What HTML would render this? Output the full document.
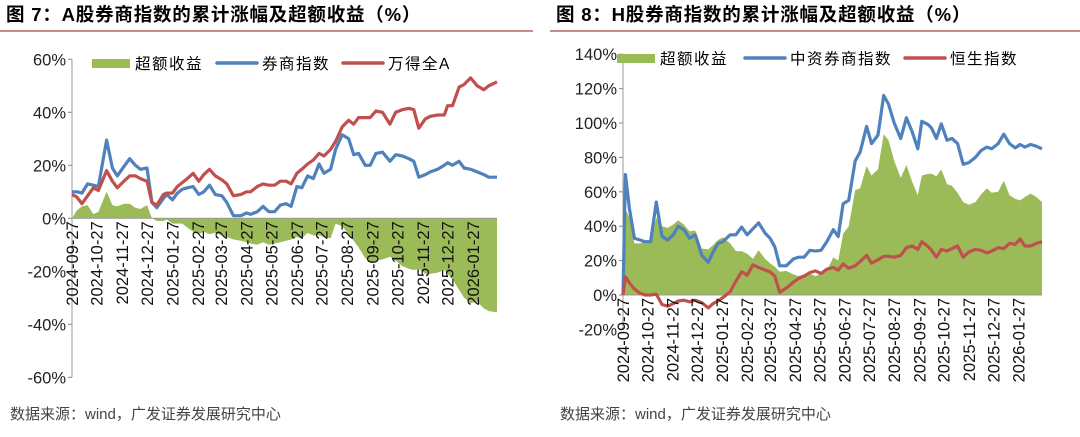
<!DOCTYPE html>
<html><head><meta charset="utf-8"><style>
body{margin:0;background:#fff;width:1080px;height:432px;overflow:hidden;font-family:"Liberation Sans","Noto Sans CJK SC",sans-serif}
svg text{font-family:"Liberation Sans","Noto Sans CJK SC",sans-serif}
</style></head><body>
<svg id="c" width="1080" height="432"></svg>
<script>
const leftDays=[0,6,12,19,26,32,42,49,55,63,70,77,83,91,97,103,111,115,122,128,134,140,147,154,160,167,174,182,188,196,205,212,217,225,232,239,246,253,260,266,273,279,286,293,300,306,314,320,328,336,342,348,356,362,369,377,386,393,401,409,415,421,429,435,444,452,456,462,470,476,484,492,500,506,516];
const leftBroker=[10,10,9.5,13,12.5,12,29.5,19,16,19.5,22.5,20,18.5,19,6,4,7.5,9,7,9.5,11,11.5,12,9,10,12.5,9,8.5,6,1,1,2,1.5,2.5,4.5,2.5,2.5,5,5.5,4.5,12,11.5,16,15,20.5,17,18.5,26,31.5,30,24,24.5,20,20,24.5,25,21.5,24,23.5,22.5,21.5,15.5,16.5,17.5,18.5,20,21,20,21.5,19,18.5,17.5,16.5,15.5,15.5];
const leftWind=[9,8,5.5,8.5,11.5,10.5,18,14,11.5,14,16,16,15,14,6,5,9,9.5,9.5,12,13.5,15,17,14,16.5,18.5,16,14.5,13,8.5,9,10,10,12,13,12.5,12.5,14,14,13,17,18.5,20.5,22,24.5,23.5,26,29,34.5,37,35.5,38,38,38,40.5,40,35.5,40,41,41.5,41,34,37.5,38.5,39,39,42.5,42.5,49.5,50.5,53,50,48.5,50,51.5];
const leftExcess=[0,3,4.5,5,1.5,2.5,10,5,4.5,5.5,5.5,4,3.5,5,0,-1,-1,-0.5,-2,-2,-2,-3.5,-5,-6,-5,-6,-5.5,-6.5,-7,-8,-8.5,-9,-9.5,-10,-9,-10,-9.5,-9,-8.5,-8,-7,-7.5,-5.5,-6.5,-6.5,-7,-7.5,-2,-3,-6,-8.5,-11,-15,-16.5,-16,-15.5,-14.5,-16,-18,-19,-19.5,-19,-21,-21,-20.5,-19.5,-21,-23,-27,-30,-32,-31.5,-34,-35,-35.5];
const rightDays=[0,3,8,14,21,27,34,41,48,55,62,68,75,82,89,97,105,111,117,123,132,139,146,153,160,167,175,181,187,193,201,210,216,223,230,237,244,251,259,265,271,278,286,292,300,306,314,321,327,334,342,349,356,363,368,376,380,386,392,399,405,412,419,426,434,441,448,454,462,469,476,483,489,495,502,509,516];
const rightBroker=[0,70,50,33,32,31,31,54,34,32,35,40,38,33,35,23,19,25,30,31,35,35,39.5,35,38.5,42,36,33,28,17,17,21,22,22,26,25.5,26,31,38,34,53,55,78,83,98,88,93,116,111,100,91,103,95,85,101,99,97,91,99.5,90,91,88,76,77,80,84,86,85,88,93.5,88,85.5,87.5,86,87.5,86.5,85];
const rightHSI=[0,10.5,7,3.5,1,0,0,0.5,-5.5,-6.5,-5,-3.5,-3,-4,-3,-4.5,-7.5,-5,-3.5,-1.5,2,8,13.5,11.5,17.5,16,14.5,13.5,11,1.5,4,7.5,9.5,11,13,14,12.5,15,16,14.5,18,15.5,17,19.5,23,18.5,20.5,22.5,22.5,22,23,27.5,28.5,26.5,31,28,26,22,26.5,25.5,27,28.5,22,25,26.5,26,24.5,25.5,27.5,27,30,29.5,32.5,28.5,28.5,30,31];
const rightExcess=[0,50,45,30,30,31,31,45,40,39,41,43.5,41,37,37.5,27,26.5,29,32,33.5,30,25.5,25.5,24,21,26,21,18.5,16.5,13.5,14,12,11,12,12.5,11,12.5,14,22,20,35.5,40,61,62,75,69.5,73,93.5,90,78,68,75.5,66,58,69.5,70.5,70.5,69,73,64.5,63.5,59.5,54,52.5,54,58.5,62,59.5,60,66.5,58,56,55,57,59,57,54];
const tickDays=[0,30,61,91,122,153,181,212,242,273,303,334,365,395,426,456,487];
const tickLabels=["2024-09-27","2024-10-27","2024-11-27","2024-12-27","2025-01-27","2025-02-27","2025-03-27","2025-04-27","2025-05-27","2025-06-27","2025-07-27","2025-08-27","2025-09-27","2025-10-27","2025-11-27","2025-12-27","2026-01-27"];
const leftYTicks=[60,40,20,0,-20,-40,-60];
const rightYTicks=[140,120,100,80,60,40,20,0,-20];

const svg=document.getElementById('c');const NS='http://www.w3.org/2000/svg';
function mk(t,a,name,p){const e=document.createElementNS(NS,t);for(const k in a)e.setAttribute(k,a[k]);


(p||svg).appendChild(e);return e;}
function txt(x,y,s,name,a){const e=mk('text',Object.assign({x:x,y:y,'font-size':14,fill:'#000'},a||{}),name);e.textContent=s;return e;}

function chart(o){
  const X=d=>o.x0+d*(o.x1-o.x0)/516;
  const Y=v=>o.y0-v*o.pp;
  const g=mk('g',{},o.name);
  o.yt.forEach(v=>{txt(o.x0-6,Y(v)+6,v+'%',o.name+'-y-tick',{'text-anchor':'end','font-size':16.5,fill:'#222'});
    mk('line',{x1:o.x0-4,x2:o.x0,y1:Y(v),y2:Y(v),stroke:'#888'},o.name+'-y-tickmark',g);});
  let d='M'+X(o.days[0])+','+Y(0);
  o.days.forEach((dd,i)=>d+='L'+X(dd).toFixed(1)+','+Y(o.ex[i]).toFixed(1));
  d+='L'+X(o.days[o.days.length-1])+','+Y(0)+'Z';
  mk('path',{d:d,fill:'#9bbb59'},o.name+'-excess-area',g);
  mk('line',{x1:o.x0,x2:o.x1,y1:Y(0),y2:Y(0),stroke:'#999'},o.name+'-zero-line',g);
  mk('line',{x1:o.x0,x2:o.x0,y1:Y(o.yt[0]),y2:Y(o.yt[o.yt.length-1]),stroke:'#999'},o.name+'-y-axis',g);
  [[o.b,'#4f81bd','broker-line'],[o.r,'#c0504d','benchmark-line']].forEach(s=>{
    const p=o.days.map((dd,i)=>X(dd).toFixed(1)+','+Y(s[0][i]).toFixed(1)).join(' ');
    mk('polyline',{points:p,fill:'none',stroke:s[1],'stroke-width':3.2,'stroke-linejoin':'round'},o.name+'-'+s[2],g);});
  tickDays.forEach((dd,i)=>{const x=X(dd);
    txt(0,0,tickLabels[i],o.name+'-x-tick',{transform:`translate(${x+6},${Y(0)+3}) rotate(-90)`,'text-anchor':'end','font-size':16.5,fill:'#111'});});
  const L=o.leg;
  mk('rect',{x:L[0],y:L[3]-4,width:38,height:9,fill:'#9bbb59'},o.name+'-legend-excess-swatch');
  txt(L[0]+43,L[3]+6,'超额收益',o.name+'-legend-excess',{'font-size':15.5,'letter-spacing':1.5});
  mk('line',{x1:L[1],x2:L[1]+40,y1:L[3],y2:L[3],stroke:'#4f81bd','stroke-width':3.5,'stroke-linecap':'round'},o.name+'-legend-broker-swatch');
  txt(L[1]+45,L[3]+6,o.bn,o.name+'-legend-broker',{'font-size':15.5,'letter-spacing':1.5});
  mk('line',{x1:L[2],x2:L[2]+40,y1:L[3],y2:L[3],stroke:'#c0504d','stroke-width':3.5,'stroke-linecap':'round'},o.name+'-legend-benchmark-swatch');
  txt(L[2]+45,L[3]+6,o.rn,o.name+'-legend-benchmark',{'font-size':15.5,'letter-spacing':1.5});
}
chart({name:'left-chart',x0:72,x1:497,y0:218.3,pp:53/20,yt:leftYTicks,days:leftDays,b:leftBroker,r:leftWind,ex:leftExcess,leg:[92,217,343,63],bn:'券商指数',rn:'万得全A'});
chart({name:'right-chart',x0:623,x1:1042,y0:295,pp:34.4/20,yt:rightYTicks,days:rightDays,b:rightBroker,r:rightHSI,ex:rightExcess,leg:[617,745,905,58],bn:'中资券商指数',rn:'恒生指数'});
txt(6,21,'图 7：A股券商指数的累计涨幅及超额收益（%）','left-title',{'font-size':18.5,'font-weight':'bold','letter-spacing':0.8});
txt(556,21,'图 8：H股券商指数的累计涨幅及超额收益（%）','right-title',{'font-size':18.5,'font-weight':'bold','letter-spacing':0.8});
mk('line',{x1:0,x2:533,y1:31,y2:31,stroke:'#8b1a1a','stroke-width':1},'left-title-rule');
mk('line',{x1:550,x2:1080,y1:31,y2:31,stroke:'#8b1a1a','stroke-width':1},'right-title-rule');
txt(10,419,'数据来源：wind，广发证券发展研究中心','left-source',{'font-size':15,fill:'#444'});
txt(560,419,'数据来源：wind，广发证券发展研究中心','right-source',{'font-size':15,fill:'#444'});
</script>
</body></html>
